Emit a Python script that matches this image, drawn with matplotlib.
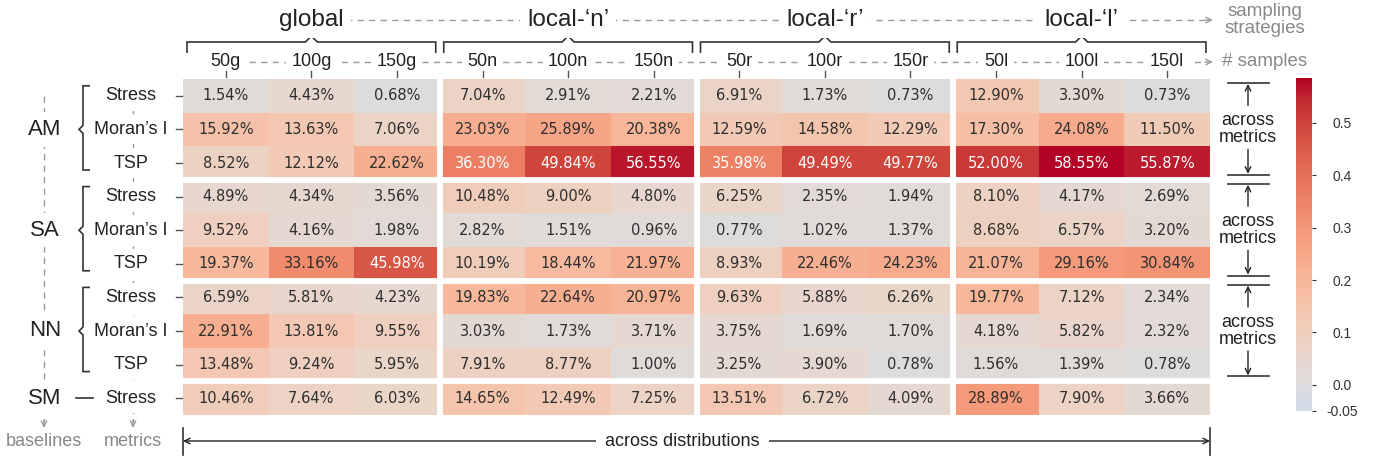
import numpy as np
import matplotlib
matplotlib.use("Agg")
import matplotlib.pyplot as plt
from matplotlib.colors import ListedColormap, Normalize
from matplotlib.path import Path
from matplotlib.patches import PathPatch

# ---------------- data ----------------
strategies = ["global", "local-‘n’", "local-‘r’", "local-‘l’"]
sample_labels = ["50g", "100g", "150g", "50n", "100n", "150n",
                 "50r", "100r", "150r", "50l", "100l", "150l"]
baselines = ["AM", "SA", "NN", "SM"]
baseline_metrics = [["Stress", "Moran’s I", "TSP"],
                    ["Stress", "Moran’s I", "TSP"],
                    ["Stress", "Moran’s I", "TSP"],
                    ["Stress"]]

am_stress = [1.54, 4.43, 0.68, 7.04, 2.91, 2.21, 6.91, 1.73, 0.73, 12.90, 3.30, 0.73]
am_moran = [15.92, 13.63, 7.06, 23.03, 25.89, 20.38, 12.59, 14.58, 12.29, 17.30, 24.08, 11.50]
am_tsp = [8.52, 12.12, 22.62, 36.30, 49.84, 56.55, 35.98, 49.49, 49.77, 52.00, 58.55, 55.87]
sa_stress = [4.89, 4.34, 3.56, 10.48, 9.00, 4.80, 6.25, 2.35, 1.94, 8.10, 4.17, 2.69]
sa_moran = [9.52, 4.16, 1.98, 2.82, 1.51, 0.96, 0.77, 1.02, 1.37, 8.68, 6.57, 3.20]
sa_tsp = [19.37, 33.16, 45.98, 10.19, 18.44, 21.97, 8.93, 22.46, 24.23, 21.07, 29.16, 30.84]
nn_stress = [6.59, 5.81, 4.23, 19.83, 22.64, 20.97, 9.63, 5.88, 6.26, 19.77, 7.12, 2.34]
nn_moran = [22.91, 13.81, 9.55, 3.03, 1.73, 3.71, 3.75, 1.69, 1.70, 4.18, 5.82, 2.32]
nn_tsp = [13.48, 9.24, 5.95, 7.91, 8.77, 1.00, 3.25, 3.90, 0.78, 1.56, 1.39, 0.78]
sm_stress = [10.46, 7.64, 6.03, 14.65, 12.49, 7.25, 13.51, 6.72, 4.09, 28.89, 7.90, 3.66]

colorbar_min = -0.05
colorbar_ticks = [-0.05, 0.0, 0.1, 0.2, 0.3, 0.4, 0.5]

rows = [am_stress, am_moran, am_tsp, sa_stress, sa_moran, sa_tsp,
        nn_stress, nn_moran, nn_tsp, sm_stress]
pct = np.array(rows)
frac = pct / 100.0
nrow, ncol = pct.shape

# ---------------- colormap (centered at 0) ----------------
vmin, vmax, center = colorbar_min, frac.max(), 0.0
vrange = max(vmax - center, center - vmin)
cmin = (vmin - (center - vrange)) / (2 * vrange)
cmax = (vmax - (center - vrange)) / (2 * vrange)
cmap = ListedColormap(plt.get_cmap("coolwarm")(np.linspace(cmin, cmax, 256)))
norm = Normalize(vmin, vmax)

LABEL_FONT = ["Liberation Sans", "DejaVu Sans"]
W, H = 1382, 462
fig = plt.figure(figsize=(W / 100, H / 100), dpi=100)


def fr(x0, y0, x1, y1):
    return [x0 / W, 1 - y1 / H, (x1 - x0) / W, (y1 - y0) / H]


ax = fig.add_axes(fr(183, 79, 1210, 415))
mesh = ax.pcolormesh(np.arange(ncol + 1), np.arange(nrow + 1), frac,
                     cmap=cmap, norm=norm)
ax.set_xlim(0, ncol)
ax.set_ylim(nrow, 0)
ax.axis("off")

# separators between groups
ngroup_cols = len(sample_labels) // len(strategies)
for k in range(1, len(strategies)):
    ax.axvline(k * ngroup_cols, color="white", lw=4.2)
row_bounds = np.cumsum([len(m) for m in baseline_metrics])
for b in row_bounds[:-1]:
    ax.axhline(b, color="white", lw=4.2)

for i in range(nrow):
    for j in range(ncol):
        v = pct[i, j]
        ax.text(j + 0.5, i + 0.5, f"{v:.2f}%", ha="center", va="center",
                fontsize=10.5, family="DejaVu Sans",
                color="white" if v > 35 else "#2e2e2e")

# ---------------- colorbar ----------------
cax = fig.add_axes(fr(1296, 78, 1312, 411))
cb = fig.colorbar(mesh, cax=cax, ticks=colorbar_ticks)
cb.outline.set_visible(False)
cax.set_yticklabels(["-0.05" if t < 0 else f"{t:.1f}" for t in colorbar_ticks])
cax.tick_params(length=3, width=0.8, pad=19, labelsize=10, colors="#333333")
for lab in cax.get_yticklabels():
    lab.set_horizontalalignment("center")
    lab.set_family(LABEL_FONT)

# ---------------- overlay annotations ----------------
ov = fig.add_axes([0, 0, 1, 1], zorder=5)
ov.set_xlim(0, W)
ov.set_ylim(H, 0)
ov.axis("off")


def colx(j):
    return ax.transData.transform((j + 0.5, 0))[0]


def coledge(j):
    return ax.transData.transform((j, 0))[0]


def rowy(i):
    return H - ax.transData.transform((0, i + 0.5))[1]


def rowedge(i):
    return H - ax.transData.transform((0, i))[1]


DASH = (0, (4.5, 3.8))
GRAY = "#9a9a9a"
DARK = "#222222"

# strategies row
y_strat = 20
x_end = 1213
ov.plot([colx(1), x_end - 6], [y_strat, y_strat], ls=DASH, color=GRAY, lw=1, zorder=1)
ov.annotate("", xy=(x_end, y_strat), xytext=(x_end - 8, y_strat),
            arrowprops=dict(arrowstyle="->", color=GRAY, lw=1, shrinkA=0, shrinkB=0))
for g, name in enumerate(strategies):
    xc = (coledge(g * ngroup_cols) + coledge((g + 1) * ngroup_cols)) / 2
    ov.text(xc, y_strat, name, ha="center", va="center", fontsize=17.5,
            family=LABEL_FONT, color=DARK,
            bbox=dict(boxstyle="square,pad=0.3", fc="white", ec="none"), zorder=3)
    x0 = coledge(g * ngroup_cols) + 4
    x1 = coledge((g + 1) * ngroup_cols) - 4
    verts = [(x0, 53), (x0, 42), (xc - 6, 42), (xc, 36), (xc + 6, 42), (x1, 42), (x1, 53)]
    ov.add_patch(PathPatch(Path(verts), fill=False, lw=1.2, color="#333333", zorder=2))
ov.text(1265, 20, "sampling\nstrategies", ha="center", va="center", fontsize=13.5,
        family=LABEL_FONT, color="#888888", linespacing=1.05)

# samples row
y_samp = 62
ov.plot([colx(0), x_end - 6], [y_samp, y_samp], ls=DASH, color=GRAY, lw=1, zorder=1)
ov.annotate("", xy=(x_end, y_samp), xytext=(x_end - 8, y_samp),
            arrowprops=dict(arrowstyle="->", color=GRAY, lw=1, shrinkA=0, shrinkB=0))
for j, lab in enumerate(sample_labels):
    ov.text(colx(j), y_samp, lab, ha="center", va="center", fontsize=13,
            family=LABEL_FONT, color=DARK,
            bbox=dict(boxstyle="square,pad=0.3", fc="white", ec="none"), zorder=3)
    ov.plot([colx(j), colx(j)], [71, 77], color="#555555", lw=1, zorder=4)
ov.text(1265, y_samp, "# samples", ha="center", va="center", fontsize=13.5,
        family=LABEL_FONT, color="#888888")

# metrics column
x_met = 133
ov.plot([x_met, x_met], [rowy(0), 422], ls=DASH, color=GRAY, lw=1, zorder=1)
ov.annotate("", xy=(x_met, 428), xytext=(x_met, 420),
            arrowprops=dict(arrowstyle="->", color=GRAY, lw=1, shrinkA=0, shrinkB=0))
r = 0
for b, mets in enumerate(baseline_metrics):
    for m in mets:
        ov.text(131, rowy(r), m, ha="center", va="center", fontsize=13,
                family=LABEL_FONT, color=DARK,
                bbox=dict(boxstyle="square,pad=0.35", fc="white", ec="none"), zorder=3)
        ov.plot([176, 182], [rowy(r), rowy(r)], color="#555555", lw=1, zorder=2)
        r += 1
ov.text(x_met, 441, "metrics", ha="center", va="center", fontsize=13,
        family=LABEL_FONT, color="#888888")

# baselines column
x_base = 44
ov.plot([x_base, x_base], [rowy(0), 422], ls=DASH, color=GRAY, lw=1, zorder=1)
ov.annotate("", xy=(x_base, 428), xytext=(x_base, 420),
            arrowprops=dict(arrowstyle="->", color=GRAY, lw=1, shrinkA=0, shrinkB=0))
r = 0
for b, name in enumerate(baselines):
    n = len(baseline_metrics[b])
    yc = (rowy(r) + rowy(r + n - 1)) / 2
    ov.text(45, yc, name, ha="center", va="center", fontsize=16,
            family=LABEL_FONT, color=DARK,
            bbox=dict(boxstyle="square,pad=0.3", fc="white", ec="none"), zorder=3)
    if n > 1:
        yt, yb = rowy(r) - 10, rowy(r + n - 1) + 7
        verts = [(90, yt), (83, yt), (83, yc - 4), (79, yc), (83, yc + 4), (83, yb), (90, yb)]
        ov.add_patch(PathPatch(Path(verts), fill=False, lw=1.2, color="#333333", zorder=2))
    else:
        ov.plot([76, 93], [yc, yc], color="#333333", lw=1.2, zorder=2)
    r += n
ov.text(x_base, 441, "baselines", ha="center", va="center", fontsize=13,
        family=LABEL_FONT, color="#888888")

# across metrics (right)
r = 0
for b, mets in enumerate(baseline_metrics):
    n = len(mets)
    if n > 1:
        top = rowedge(r) + 4
        bot = rowedge(r + n) - 5
        yc = (rowedge(r) + rowedge(r + n)) / 2
        ov.plot([1228, 1269], [top, top], color="#333333", lw=1.2)
        ov.plot([1228, 1269], [bot, bot], color="#333333", lw=1.2)
        ov.text(1248, yc, "across\nmetrics", ha="center", va="center", fontsize=13,
                family=LABEL_FONT, color=DARK, linespacing=1.0)
        ov.annotate("", xy=(1248, top + 1), xytext=(1248, yc - 24),
                    arrowprops=dict(arrowstyle="->", color=DARK, lw=1, shrinkA=0, shrinkB=0))
        ov.annotate("", xy=(1248, bot - 1), xytext=(1248, yc + 20),
                    arrowprops=dict(arrowstyle="->", color=DARK, lw=1, shrinkA=0, shrinkB=0))
    r += n

# across distributions (bottom)
xl, xr = coledge(0), coledge(ncol)
ov.annotate("", xy=(xl, 441), xytext=(xr, 441),
            arrowprops=dict(arrowstyle="<->", color=DARK, lw=1, shrinkA=0, shrinkB=0))
ov.plot([xl, xl], [428, 455], color="#333333", lw=1.2)
ov.plot([xr, xr], [428, 455], color="#333333", lw=1.2)
ov.text((xl + xr) / 2 - 14, 441, "across distributions", ha="center", va="center",
        fontsize=13, family=LABEL_FONT, color=DARK,
        bbox=dict(boxstyle="square,pad=0.5", fc="white", ec="none"), zorder=3)

fig.savefig("out.png", dpi=100)
